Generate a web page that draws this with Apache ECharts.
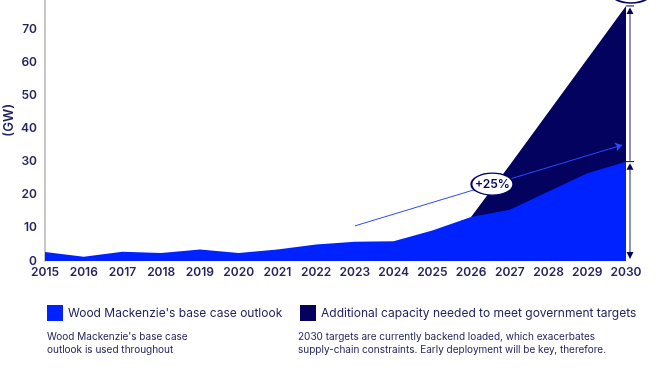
<!DOCTYPE html>
<html>
<head>
<meta charset="utf-8">
<script src="https://cdn.jsdelivr.net/npm/echarts@6/dist/echarts.min.js"></script>
<style>
html,body{margin:0;padding:0;background:#fff;overflow:hidden;}
#wrap{position:relative;width:672px;height:372px;overflow:hidden;}
#chart{position:absolute;left:0;top:-4px;width:672px;height:376px;}
</style>
</head>
<body>
<div id="wrap"><div id="chart"></div></div>
<script>
var years = [2015,2016,2017,2018,2019,2020,2021,2022,2023,2024,2025,2026,2027,2028,2029,2030];
var baseCase = [2.7,1.3,2.8,2.4,3.5,2.4,3.5,5.0,5.8,6.0,9.2,13.3,15.5,21.0,26.5,30.0];
var additional = [null,null,null,null,null,null,null,null,null,null,null,0,13.5,24.0,34.5,47.0];
var yTicks = [0,10,20,30,40,50,60,70,80];
var seriesNames = ["Wood Mackenzie's base case outlook","Additional capacity needed to meet government targets"];
var growthLabel = "+25%";
var growthStart = [2023, 10.6];
var growthEnd = [2029.9, 35];
var noteLeft = "Wood Mackenzie's base case\noutlook is used throughout";
var noteRight = "2030 targets are currently backend loaded, which exacerbates\nsupply-chain constraints. Early deployment will be key, therefore.";

var NAVY = '#03035f';
var BLUE = '#0022ff';
var TXT = '#23235f';
var FONT = 'Inter, "Noto Sans", sans-serif';

function pairs(vals){ return years.map(function(y,i){ return [y, vals[i]]; }); }
// target total = base case + additional capacity (only where additional is defined)
var totalPairs = [];
years.forEach(function(y,i){ if(additional[i]!==null){ totalPairs.push([y, baseCase[i]+additional[i]]); } });
var ellipsePath = 'path://M0,10 A10,10 0 1,1 20,10 A10,10 0 1,1 0,10 Z';

var chart = echarts.init(document.getElementById('chart'), null, {renderer:'canvas'});
var option = {
  animation:false,
  textStyle:{fontFamily:FONT},
  grid:{left:45,right:46,top:0,bottom:111,containLabel:false,outerBoundsMode:'none'},
  legend:[
    {data:[seriesNames[0]],left:47,top:309,padding:0,icon:'rect',itemWidth:16,itemHeight:16,itemGap:4,
     textStyle:{fontSize:12,color:TXT,fontFamily:FONT}},
    {data:[seriesNames[1]],left:300,top:309,padding:0,icon:'rect',itemWidth:16,itemHeight:16,itemGap:4,
     textStyle:{fontSize:12,color:TXT,fontFamily:FONT}}
  ],
  xAxis:{type:'value',min:years[0],max:years[years.length-1],interval:1,
    axisLine:{show:false},axisTick:{show:false},splitLine:{show:false},
    axisLabel:{color:TXT,fontSize:12,fontWeight:600,margin:5,fontFamily:FONT,formatter:function(v){return String(v);}}},
  yAxis:{type:'value',min:yTicks[0],max:yTicks[yTicks.length-1],interval:10,
    axisLine:{show:true,lineStyle:{color:'#c8c8c8',width:2}},axisTick:{show:false},splitLine:{show:false},
    axisLabel:{color:TXT,fontSize:12,fontWeight:600,margin:8,fontFamily:FONT}},
  series:[
    {name:seriesNames[1],type:'line',data:totalPairs,symbol:'none',
     lineStyle:{width:0},areaStyle:{color:NAVY,opacity:1},itemStyle:{color:NAVY},z:1},
    {name:seriesNames[0],type:'line',data:pairs(baseCase),symbol:'none',
     lineStyle:{width:0},areaStyle:{color:BLUE,opacity:1},itemStyle:{color:BLUE},z:2,
     markLine:{silent:true,symbol:['none','arrow'],symbolSize:7,label:{show:false},
       lineStyle:{color:'#2a48ff',width:1,type:'solid'},
       data:[[{coord:growthStart},{coord:growthEnd}]]},
     markPoint:{silent:true,symbol:ellipsePath,symbolSize:[42,22],
       itemStyle:{color:'#fff',borderColor:NAVY,borderWidth:1.5},
       label:{show:true,formatter:growthLabel,color:NAVY,fontSize:12,fontWeight:600,fontFamily:FONT},
       data:[{coord:[2026.55,23.2]}]}
    }
  ]
};
chart.setOption(option);

// annotation graphics positioned via the chart's own scales
var lastYear = years[years.length-1];
var lastTotal = totalPairs[totalPairs.length-1][1];
var lastBase = baseCase[baseCase.length-1];
function px(x,y){ return chart.convertToPixel({gridIndex:0},[x,y]); }
var pZero = px(lastYear,0), pBase = px(lastYear,lastBase), pTop = px(lastYear,lastTotal);
var ax = pZero[0]+4;
var LC = '#6c6c9c';
var g = [
  {type:'text',left:3,top:108,rotation:Math.PI/2,style:{text:'(GW)',fill:TXT,font:'600 13px '+FONT}},
  {type:'text',left:47,top:334,style:{text:noteLeft,fill:TXT,font:'10px '+FONT,lineHeight:13.5}},
  {type:'text',left:298,top:334,style:{text:noteRight,fill:TXT,font:'10px '+FONT,lineHeight:13.5}},
  // lower double arrow 0 -> base
  {type:'line',shape:{x1:ax,y1:pZero[1]-4,x2:ax,y2:pBase[1]+4},style:{stroke:LC,lineWidth:1.5}},
  {type:'polygon',shape:{points:[[ax-3.5,pZero[1]-9],[ax+3.5,pZero[1]-9],[ax,pZero[1]-2]]},style:{fill:NAVY}},
  {type:'polygon',shape:{points:[[ax-3.5,pBase[1]+8],[ax+3.5,pBase[1]+8],[ax,pBase[1]+1.5]]},style:{fill:NAVY}},
  {type:'line',shape:{x1:ax-4,y1:pBase[1],x2:ax+4,y2:pBase[1]},style:{stroke:NAVY,lineWidth:1}},
  // upper arrow base -> target
  {type:'line',shape:{x1:ax,y1:pBase[1]-1,x2:ax,y2:pTop[1]+4},style:{stroke:LC,lineWidth:1.5}},
  {type:'polygon',shape:{points:[[ax-3.5,pTop[1]+8],[ax+3.5,pTop[1]+8],[ax,pTop[1]+1.5]]},style:{fill:NAVY}},
  {type:'line',shape:{x1:ax-4,y1:pTop[1],x2:ax+4,y2:pTop[1]},style:{stroke:NAVY,lineWidth:1}},
  // label bubble above target (cut off at top)
  {type:'ellipse',shape:{cx:ax+1,cy:pTop[1]-14,rx:21,ry:11},style:{fill:'#fff',stroke:NAVY,lineWidth:1.5}}
];
chart.setOption({graphic:g});
</script>
</body>
</html>
